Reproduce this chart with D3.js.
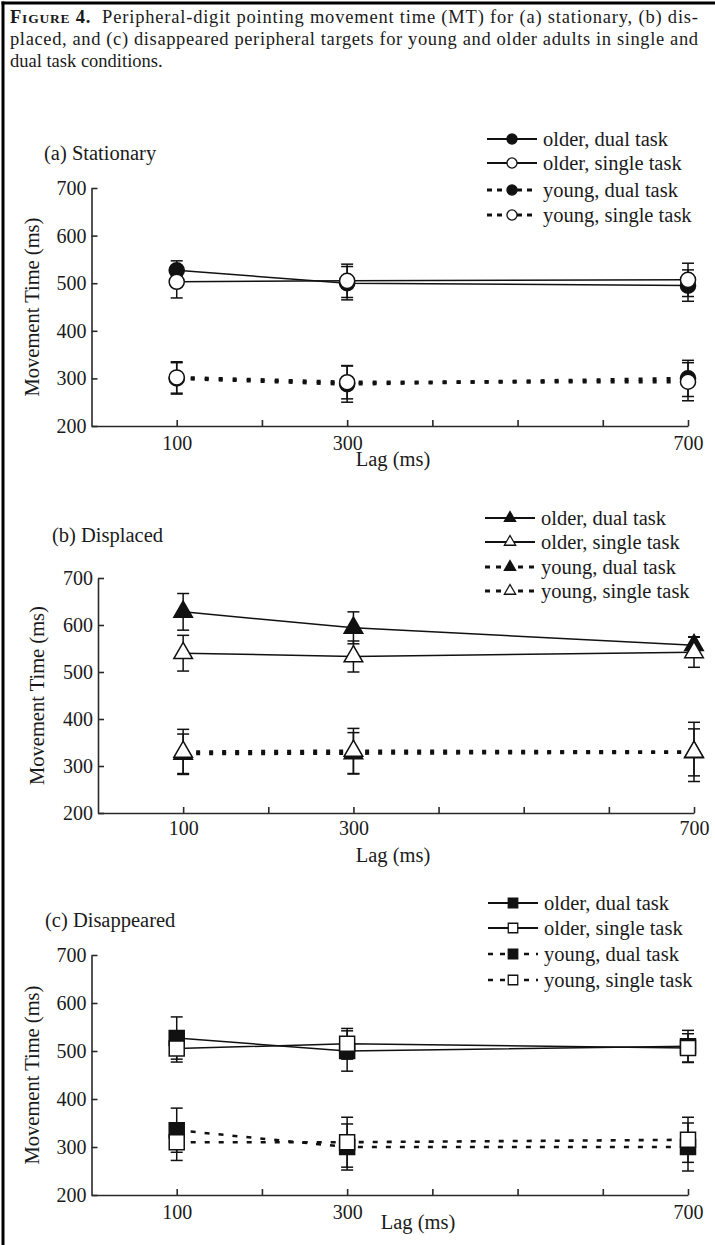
<!DOCTYPE html>
<html>
<head>
<meta charset="utf-8">
<script src="https://cdn.jsdelivr.net/npm/d3@7"></script>
<style>
  html, body { margin: 0; padding: 0; background: #fff; }
  svg { display: block; }
  text { font-family: "Liberation Serif", "Times New Roman", serif; fill: #1a1a1a; }
</style>
</head>
<body>
<svg id="chart" width="715" height="1245"></svg>
<script>
// ---------------- data ----------------
const lags = [100, 300, 700];
const xTickValues = [100, 200, 300, 400, 500, 600, 700];
const xTickLabels = [100, 300, 700];
const yTickValues = [200, 300, 400, 500, 600, 700];
const seriesNames = ["older, dual task", "older, single task", "young, dual task", "young, single task"];
const panelTitles = ["(a) Stationary", "(b) Displaced", "(c) Disappeared"];
const xTitle = "Lag (ms)";
const yTitle = "Movement Time (ms)";
const captionLines = [
  "Peripheral-digit pointing movement time (MT) for (a) stationary, (b) dis-",
  "placed, and (c) disappeared peripheral targets for young and older adults in single and",
  "dual task conditions."
];

// (a) Stationary
const aOlderDual = [527, 500, 495];   const aOlderDualSE = [20, 35, 33];
const aOlderSingle = [503, 505, 507]; const aOlderSingleSE = [34, 35, 35];
const aYoungDual = [300, 288, 300];   const aYoungDualSE = [33, 38, 38];
const aYoungSingle = [302, 292, 293]; const aYoungSingleSE = [33, 35, 40];
// (b) Displaced
const bOlderDual = [628, 594, 557];   const bOlderDualSE = [39, 34, 18];
const bOlderSingle = [540, 533, 542]; const bOlderSingleSE = [38, 33, 32];
const bYoungDual = [326, 327, 329];   const bYoungDualSE = [42, 44, 50];
const bYoungSingle = [330, 332, 330]; const bYoungSingleSE = [48, 48, 63];
// (c) Disappeared
const cOlderDual = [527, 500, 510];   const cOlderDualSE = [44, 42, 33];
const cOlderSingle = [505, 515, 506]; const cOlderSingleSE = [28, 32, 30];
const cYoungDual = [335, 300, 300];   const cYoungDualSE = [46, 48, 50];
const cYoungSingle = [310, 310, 315]; const cYoungSingleSE = [38, 52, 47];

// ---------------- layout / style ----------------
const panels = [
  { title: panelTitles[0], shape: d3.symbolCircle, size: 180, legSize: 80,
    youngDash: "4,10", youngWidth: 3.4, legDash: "5,5", legWidth: 3,
    x0: 91.5, x1: 688, yTop: 188, yBot: 426,
    titlePos: [44, 160], yLabX: 32, xLabPos: [393, 466], tickPad: 10,
    legX: 487, legY: [139, 163, 190, 215],
    series: [
      { v: aOlderDual, e: aOlderDualSE, fill: "#111", young: false },
      { v: aOlderSingle, e: aOlderSingleSE, fill: "#fff", young: false },
      { v: aYoungDual, e: aYoungDualSE, fill: "#111", young: true },
      { v: aYoungSingle, e: aYoungSingleSE, fill: "#fff", young: true } ] },
  { title: panelTitles[1], shape: d3.symbolTriangle, size: 150, legSize: 55,
    youngDash: "4,9", youngWidth: 3.2, legDash: "5,6", legWidth: 3,
    x0: 98, x1: 694, yTop: 578, yBot: 813,
    titlePos: [52, 542], yLabX: 37, xLabPos: [393, 862], tickPad: 8,
    legX: 485, legY: [518, 542, 567, 591],
    series: [
      { v: bOlderDual, e: bOlderDualSE, fill: "#111", young: false },
      { v: bOlderSingle, e: bOlderSingleSE, fill: "#fff", young: false },
      { v: bYoungDual, e: bYoungDualSE, fill: "#111", young: true },
      { v: bYoungSingle, e: bYoungSingleSE, fill: "#fff", young: true } ] },
  { title: panelTitles[2], shape: d3.symbolSquare, size: 225, legSize: 90,
    youngDash: "5,9", youngWidth: 2.6, legDash: "5,7", legWidth: 2.6,
    x0: 91.5, x1: 688, yTop: 955, yBot: 1195,
    titlePos: [45, 927], yLabX: 32, xLabPos: [418, 1229], tickPad: 10,
    legX: 488, legY: [903, 928, 954, 980],
    series: [
      { v: cOlderDual, e: cOlderDualSE, fill: "#111", young: false },
      { v: cOlderSingle, e: cOlderSingleSE, fill: "#fff", young: false },
      { v: cYoungDual, e: cYoungDualSE, fill: "#111", young: true },
      { v: cYoungSingle, e: cYoungSingleSE, fill: "#fff", young: true } ] }
];

const svg = d3.select("#chart");

// frame
svg.append("line").attr("x1", 1.5).attr("x2", 715).attr("y1", 3).attr("y2", 3)
  .attr("stroke", "#000").attr("stroke-width", 3);
svg.append("line").attr("x1", 3).attr("x2", 3).attr("y1", 1.5).attr("y2", 1245)
  .attr("stroke", "#000").attr("stroke-width", 3);

// caption
const cap = svg.append("g");
const l1 = cap.append("text").attr("x", 10).attr("y", 23).attr("font-size", 18.5)
  .attr("textLength", 688).attr("lengthAdjust", "spacing");
l1.append("tspan").attr("font-weight", "bold").text("F");
l1.append("tspan").attr("font-weight", "bold").attr("font-size", 13.5).text("IGURE");
l1.append("tspan").attr("font-weight", "bold").text(" 4.");
l1.append("tspan").text("\u00a0 " + captionLines[0]);
cap.append("text").attr("x", 10).attr("y", 45).attr("font-size", 18.5)
  .attr("textLength", 688).attr("lengthAdjust", "spacing").text(captionLines[1]);
cap.append("text").attr("x", 10).attr("y", 67).attr("font-size", 18.5).text(captionLines[2]);

panels.forEach(p => {
  const g = svg.append("g");
  const x = d3.scaleLinear().domain([0, 700]).range([p.x0, p.x1]);
  const y = d3.scaleLinear().domain([200, 700]).range([p.yBot, p.yTop]);

  // axes
  const ax = g.append("g").attr("transform", `translate(0,${p.yBot})`)
    .call(d3.axisBottom(x).tickValues(xTickValues).tickSizeInner(-6).tickSizeOuter(0)
      .tickPadding(p.tickPad).tickFormat(d => xTickLabels.includes(d) ? d : ""));
  const ay = g.append("g").attr("transform", `translate(${p.x0},0)`)
    .call(d3.axisLeft(y).tickValues(yTickValues).tickSizeInner(-6).tickSizeOuter(0)
      .tickPadding(5));
  [ax, ay].forEach(a => {
    a.selectAll("path, line").attr("stroke", "#2a2a2a").attr("stroke-width", 1.6);
    a.selectAll("text").attr("font-family", "Liberation Serif, serif")
      .attr("font-size", 20).attr("fill", "#1a1a1a");
  });

  // titles
  g.append("text").attr("x", p.titlePos[0]).attr("y", p.titlePos[1]).attr("font-size", 20.5).text(p.title);
  g.append("text").attr("x", p.xLabPos[0]).attr("y", p.xLabPos[1]).attr("text-anchor", "middle")
    .attr("font-size", 20.5).text(xTitle);
  g.append("text").attr("transform", `translate(${p.yLabX},${(p.yTop + p.yBot) / 2}) rotate(-90)`)
    .attr("text-anchor", "middle").attr("dominant-baseline", "central").attr("font-size", 20.5).text(yTitle);

  // lines
  const line = d3.line().x((d, i) => x(lags[i])).y(d => y(d));
  p.series.forEach(s => {
    g.append("path").datum(s.v).attr("d", line).attr("fill", "none").attr("stroke", "#111")
      .attr("stroke-width", s.young ? p.youngWidth : 1.5)
      .attr("stroke-dasharray", s.young ? p.youngDash : null);
  });

  // error bars
  p.series.forEach(s => {
    s.v.forEach((v, i) => {
      const cx = x(lags[i]);
      const hi = y(v + s.e[i]), lo = y(v - s.e[i]);
      g.append("line").attr("x1", cx).attr("x2", cx).attr("y1", hi).attr("y2", lo)
        .attr("stroke", "#111").attr("stroke-width", 1.5);
      [hi, lo].forEach(yy => g.append("line").attr("x1", cx - 6).attr("x2", cx + 6)
        .attr("y1", yy).attr("y2", yy).attr("stroke", "#111").attr("stroke-width", 1.5));
    });
  });

  // markers
  const sym = d3.symbol().type(p.shape).size(p.size);
  p.series.forEach(s => {
    g.selectAll(null).data(s.v).join("path")
      .attr("d", sym)
      .attr("transform", (d, i) => `translate(${x(lags[i])},${y(d)})`)
      .attr("fill", s.fill).attr("stroke", "#111").attr("stroke-width", 1.5);
  });

  // legend
  const legSym = d3.symbol().type(p.shape).size(p.legSize);
  p.series.forEach((s, k) => {
    const ly = p.legY[k];
    g.append("line").attr("x1", p.legX).attr("x2", p.legX + 50).attr("y1", ly).attr("y2", ly)
      .attr("stroke", "#111").attr("stroke-width", s.young ? p.legWidth : 2)
      .attr("stroke-dasharray", s.young ? p.legDash : null);
    g.append("path").attr("d", legSym).attr("transform", `translate(${p.legX + 25},${ly})`)
      .attr("fill", s.fill).attr("stroke", "#111").attr("stroke-width", 1.3);
    g.append("text").attr("x", p.legX + 56).attr("y", ly).attr("dominant-baseline", "central")
      .attr("font-size", 20.5).text(seriesNames[k]);
  });
});
</script>
</body>
</html>
